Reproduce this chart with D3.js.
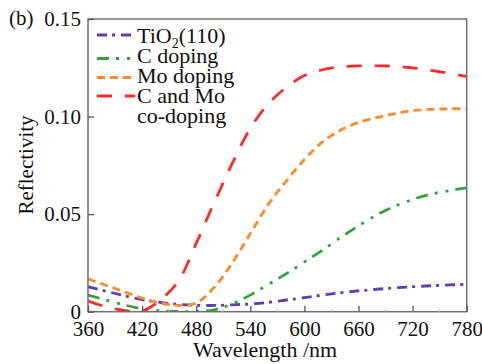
<!DOCTYPE html>
<html><head><meta charset="utf-8">
<script src="https://cdn.jsdelivr.net/npm/d3@7"></script>
</head><body style="margin:0;background:#fff">
<script>
const wavelengths = [360,380,400,420,440,460,480,500,520,540,560,580,600,620,640,660,680,700,720,740,760,780];
const tio2      = [0.0128,0.0105,0.0082,0.0062,0.0048,0.0038,0.0033,0.0032,0.0035,0.0040,0.0048,0.0060,0.0072,0.0085,0.0097,0.0107,0.0115,0.0122,0.0128,0.0133,0.0137,0.0140];
const cDoping   = [0.0085,0.0060,0.0035,0.0015,0.0005,0.0001,0.0001,0.0010,0.0040,0.0085,0.0140,0.0195,0.0255,0.0315,0.0380,0.0440,0.0495,0.0540,0.0575,0.0602,0.0620,0.0635];
const moDoping  = [0.0168,0.0135,0.0102,0.0070,0.0045,0.0032,0.0045,0.0125,0.0250,0.0400,0.0550,0.0670,0.0780,0.0870,0.0930,0.0970,0.0995,0.1015,0.1030,0.1037,0.1040,0.1040];
const cMoDoping = [0.0055,0.0025,0.0007,0.0004,0.0060,0.0155,0.0350,0.0560,0.0760,0.0940,0.1065,0.1150,0.1210,0.1240,0.1255,0.1260,0.1260,0.1258,0.1250,0.1237,0.1222,0.1205];
const seriesNames = ["TiO2(110)","C doping","Mo doping","C and Mo co-doping"];
const xTicks = [360,420,480,540,600,660,720,780];
const xMinorTicks = [390,450,510,570,630,690,750];
const yTicks = [0,0.05,0.10,0.15];
const yTickLabels = ["0","0.05","0.10","0.15"];

const FONT='"Liberation Serif"';
const W=482,H=364, L=88, R=466.7, T=19, B=311.7;
const svg=d3.select("body").append("svg").attr("width",W).attr("height",H).style("display","block");
const x=d3.scaleLinear().domain([360,780]).range([L,R]);
const y=d3.scaleLinear().domain([0,0.15]).range([B,T]);

svg.append("clipPath").attr("id","clip").append("rect").attr("x",L).attr("y",T).attr("width",R-L).attr("height",B-T);

const styles=[
 {data:tio2,color:"#5a40b4",dash:"10,5,3,6"},
 {data:cDoping,color:"#34a03c",dash:"12,7,3,8,3,7"},
 {data:moDoping,color:"#ff8a2c",dash:"8,5"},
 {data:cMoDoping,color:"#ff2a2a",dash:"15,13"}
];
const line=d3.line().x((d,i)=>x(wavelengths[i])).y(d=>y(d)).curve(d3.curveCatmullRom);
const g=svg.append("g").attr("clip-path","url(#clip)");
styles.forEach(s=>{
  g.append("path").attr("d",line(s.data)).attr("fill","none").attr("stroke",s.color)
   .attr("stroke-width",2.8).attr("stroke-dasharray",s.dash);
});

svg.append("rect").attr("x",L).attr("y",T).attr("width",R-L).attr("height",B-T)
  .attr("fill","none").attr("stroke","#707070").attr("stroke-width",1.5);

function txt(sel,size){ sel.attr("font-family",null).style("font-family",FONT).style("font-size",size+"px").attr("fill","#111"); }

const xa=svg.append("g").attr("transform",`translate(0,${B})`).call(d3.axisBottom(x).tickValues(xTicks).tickSizeInner(-6).tickSizeOuter(0).tickPadding(9));
xa.attr("font-family",null).attr("font-size",null);
xa.select(".domain").remove();
xa.selectAll("line").attr("stroke","#555").attr("stroke-width",1.3);
xa.selectAll("text").attr("dy",null).attr("y",24.5).call(txt,21);
svg.append("g").selectAll("line").data(xMinorTicks).join("line")
  .attr("x1",d=>x(d)).attr("x2",d=>x(d)).attr("y1",B).attr("y2",B-2.5).attr("stroke","#bbb").attr("stroke-width",1);

const ya=svg.append("g").attr("transform",`translate(${L},0)`).call(d3.axisLeft(y).tickValues(yTicks).tickFormat((d,i)=>yTickLabels[i]).tickSizeInner(-6).tickSizeOuter(0).tickPadding(7));
ya.attr("font-family",null).attr("font-size",null);
ya.select(".domain").remove();
ya.selectAll("line").attr("stroke","#555").attr("stroke-width",1.3);
ya.selectAll("text").attr("x",-7).call(txt,21);

svg.append("text").attr("x",265).attr("y",357).attr("text-anchor","middle").call(txt,22).text("Wavelength /nm");
svg.append("text").attr("transform","translate(33,165) rotate(-90)").attr("text-anchor","middle").call(txt,21).text("Reflectivity");
svg.append("text").attr("x",9).attr("y",25).call(txt,21).text("(b)");

const legY=[35,58.5,77.5,96];
styles.forEach((s,i)=>{
  svg.append("line").attr("x1",97).attr("x2",135).attr("y1",legY[i]).attr("y2",legY[i])
    .attr("stroke",s.color).attr("stroke-width",2.8).attr("stroke-dasharray",s.dash);
});
const lt=svg.append("text").attr("x",137).attr("y",43).call(txt,22);
lt.append("tspan").text("TiO");
lt.append("tspan").style("font-size","14px").attr("dy",5).text("2");
lt.append("tspan").attr("dy",-5).text("(110)");
svg.append("text").attr("x",137).attr("y",63).call(txt,22).text("C doping");
svg.append("text").attr("x",137).attr("y",83).call(txt,22).text("Mo doping");
svg.append("text").attr("x",137).attr("y",102.5).call(txt,22).text("C and Mo");
svg.append("text").attr("x",137).attr("y",123).call(txt,22).text("co-doping");
</script>
</body></html>
